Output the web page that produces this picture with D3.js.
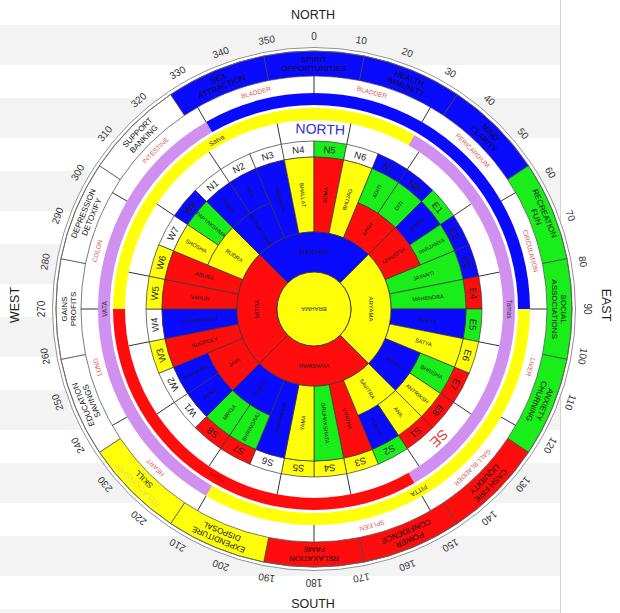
<!DOCTYPE html>
<html><head><meta charset="utf-8">
<script src="https://cdn.jsdelivr.net/npm/d3@7"></script>
<style>body{margin:0;background:#fff}svg{display:block;font-family:Arial,"Liberation Sans",sans-serif}</style>
</head><body><svg id="c" width="620" height="613"></svg>
<script>
// ---------------- DATA ----------------
const compassLabels = ["NORTH", "EAST", "SOUTH", "WEST"];
const degreeLabels = ["0","10","20","30","40","50","60","70","80","90","100","110","120","130","140","150","160","170","180","190","200","210","220","230","240","250","260","270","280","290","300","310","320","330","340","350"];
const zoneLine1 = ["SPIRIT","HEALTH","MIND","RECREATION","SOCIAL","ANXIETY","CASH FIRE","POWER","RELAXATION","EXPENDITURE","RELATIONSHIP","EDUCATION","GAINS","DEPRESSION","SUPPORT","SEX"];
const zoneLine2 = ["OPPORTUNITIES","IMMUNITY","CLARITY","FUN","ASSOCIATIONS","CHURNING","LIQUIDITY","CONFIDENCE","FAME","DISPOSAL","SKILL","SAVINGS","PROFITS","DETOXIFY","BANKING","ATTRACTION"];
const zoneColor = ["B","B","B","G","G","G","R","R","R","Y","Y","W","W","W","W","B"];
const organLabels = ["BLADDER","PERICARDIUM","CIRCULATION","LIVER","GALL BLADDER","SPLEEN","","HEART","LUNG","COLON","INTESTINE","BLADDER"];
const ringAColor = ["B","Y","L"];
const ringALabels = ["","PITTA","VATA"];
const ringBColor = ["Y","L","R"];
const ringBLabels = ["Satva","Tamas","Rajas"];
const padaLabels = ["N1","N2","N3","N4","N5","N6","N7","N8","E1","E2","E3","E4","E5","E6","E7","E8","S1","S2","S3","S4","S5","S6","S7","S8","W1","W2","W3","W4","W5","W6","W7","W8"];
const padaColor = ["W","W","W","W","G","W","B","B","G","B","B","R","G","Y","R","R","R","G","Y","Y","Y","W","R","R","W","W","Y","W","Y","Y","W","B"];
const deityNames = ["ROGA","NAG","MUKHYA","BHALLAT","SOMA","BHUJAG","ADITI","DITI","SHIKHI","PARJANYA","JAYANTI","MAHENDRA","SURYA","SATYA","BHRISHA","ANTRIKSH","ANIL","PUSHA","VITATHA","GRUHAKSHATA","YAMA","GANDHARVA","BHRINGRAJ","MRIGA","PITRA","DAUVARIK","SUGREEV","PUSHPADANT","VARUN","ASURA","SHOSHA","PAPYAKSHMA"];
const deityColor = ["B","B","B","Y","R","Y","G","G","B","G","G","G","B","Y","G","Y","Y","B","R","G","Y","B","G","G","B","B","R","B","R","R","Y","G"];
const midNames = ["APAH","APAVATSA","SAVITA","SAVITRA","INDRA","JAYA","RUDRA","RAJYAKSHMA"];
const midColor = ["R","R","B","Y","B","R","Y","B"];
const innerNames = ["BHUDHAR","ARYAMA","VIVASWAN","MITRA"];
const innerColor = ["B","Y","R","R"];
const centerName = "BRAHMA";
const zoneMarks = [{text:"NORTH", angle:2, color:"#2b2bd6"}, {text:"SE", angle:136, color:"#e63a3a"}];

// ---------------- STYLE / LAYOUT ----------------
const palette = {B:"#0a0aff", R:"#ff0d0d", Y:"#ffff0a", G:"#1aee1a", W:"#ffffff", L:"#d090f0"};
const cx = 314, cy = 309;
const R = {brahma:37, inner:77, mid:115, deity:152, pada:168, b0:189, b1:201, a0:204, a1:216, org1:233, zone1:258, line2:261.5, deg:273};

const svg = d3.select("#c");
// page stripes
d3.range(25, 613, 73).forEach(y => svg.append("rect").attr("x",0).attr("y",y).attr("width",560).attr("height",40).attr("fill","#f3f3f3"));
svg.append("line").attr("x1",560.5).attr("x2",560.5).attr("y1",0).attr("y2",613).attr("stroke","#d4d4d4");

const toRad = d3.scaleLinear().domain([0,360]).range([0,2*Math.PI]);
const arcGen = d3.arc();
const sector = (r0,r1,a0,a1) => arcGen({innerRadius:r0, outerRadius:r1, startAngle:toRad(a0), endAngle:toRad(a1)});
const pt = (r,a) => { const t = toRad(a); return [r*Math.sin(t), -r*Math.cos(t)]; };
const tang = (r,a) => { const [x,y] = pt(r,a); return `translate(${x},${y}) rotate(${a})`; };
const radial = (r,a) => { const [x,y] = pt(r,a); const n = ((a%360)+360)%360; const rot = n <= 185 ? n-90 : n+90; return `translate(${x},${y}) rotate(${rot})`; };

const g = svg.append("g").attr("transform",`translate(${cx},${cy})`);
g.append("circle").attr("r",R.line2).attr("fill","#fff").attr("stroke","#777").attr("stroke-width",0.8);

function label(sel, transform, txt, size, fill, weight) {
  return sel.append("text").attr("transform",transform).attr("text-anchor","middle")
    .attr("dominant-baseline","central").attr("font-size",size).attr("fill",fill)
    .attr("font-weight",weight||"normal").text(txt);
}

// degree labels
const degStep = 360/degreeLabels.length;
degreeLabels.forEach((t,i) => label(g, tang(R.deg, i*degStep), t, 10, "#333"));

// zone ring
const zoneStep = 360/zoneColor.length;
zoneColor.forEach((c,i) => {
  const a = i*zoneStep;
  g.append("path").attr("d",sector(R.org1,R.zone1,a-zoneStep/2,a+zoneStep/2))
    .attr("fill",palette[c]).attr("stroke","#444").attr("stroke-width",0.7);
  label(g, tang(249.5,a), zoneLine1[i], 8, zoneLine1[i]==="RELATIONSHIP" ? "#e9dd55" : "#111");
  label(g, tang(240.5,a), zoneLine2[i], 8, "#111");
});
g.append("circle").attr("r",R.zone1).attr("fill","none").attr("stroke","#666").attr("stroke-width",0.8);

// organ ring
const orgStep = 360/organLabels.length;
organLabels.forEach((t,i) => {
  const a = i*orgStep;
  const [x0,y0] = pt(R.a1,a), [x1,y1] = pt(R.org1,a);
  g.append("line").attr("x1",x0).attr("y1",y0).attr("x2",x1).attr("y2",y1).attr("stroke","#333").attr("stroke-width",1);
  label(g, tang(224.5,a+orgStep/2), t, 6.5, "#e0544c");
});

// ring A & B
const segA = 360/ringAColor.length;
ringAColor.forEach((c,i) => {
  const a0 = 330 + i*segA;
  g.append("path").attr("d",sector(R.a0,R.a1,a0,a0+segA)).attr("fill",palette[c]);
  if (ringALabels[i]) label(g, tang((R.a0+R.a1)/2, a0+segA/2), ringALabels[i], 6.5, "#333");
});
const segB = 360/ringBColor.length;
ringBColor.forEach((c,i) => {
  const a0 = 270 + i*segB;
  g.append("path").attr("d",sector(R.b0,R.b1,a0,a0+segB)).attr("fill",palette[c]);
  label(g, tang((R.b0+R.b1)/2, a0+segB/2), ringBLabels[i], 6.5, c==="R" ? "#c00000" : "#333");
});

// white annulus radial lines (16 zone boundaries)
zoneColor.forEach((c,i) => {
  const a = i*zoneStep + zoneStep/2;
  const [x0,y0] = pt(R.pada,a), [x1,y1] = pt(R.b0,a);
  g.append("line").attr("x1",x0).attr("y1",y0).attr("x2",x1).attr("y2",y1).attr("stroke","#333").attr("stroke-width",1);
});

// 32 padas + deities
const padaStep = 360/padaLabels.length;
padaLabels.forEach((lab,i) => {
  const a0 = 315 + i*padaStep, a1 = a0+padaStep, am = a0+padaStep/2;
  const k = i % 8, full = k >= 2 && k <= 5;
  g.append("path").attr("d",sector(R.deity,R.pada,a0,a1)).attr("fill",palette[padaColor[i]]).attr("stroke","#333").attr("stroke-width",0.7);
  label(g, tang(160,am), lab, 9.5, "#222");
  const r0 = full ? R.inner : R.mid;
  g.append("path").attr("d",sector(r0,R.deity,a0,a1)).attr("fill",palette[deityColor[i]]).attr("stroke","#333").attr("stroke-width",0.7);
  label(g, radial((r0+R.deity)/2, am), deityNames[i], 5.5, "#1a1a1a");
});

// intermediate deities
midNames.forEach((n,j) => {
  const a0 = 22.5 + 90*Math.floor(j/2) + 22.5*(j%2);
  g.append("path").attr("d",sector(R.inner,R.mid,a0,a0+22.5)).attr("fill",palette[midColor[j]]).attr("stroke","#333").attr("stroke-width",0.7);
  label(g, radial((R.inner+R.mid)/2, a0+11.25), n, 5.5, "#1a1a1a");
});

// inner four
innerNames.forEach((n,j) => {
  const a = 90*j;
  g.append("path").attr("d",sector(R.brahma,R.inner,a-45,a+45)).attr("fill",palette[innerColor[j]]).attr("stroke","#333").attr("stroke-width",0.8);
  label(g, tang(57,a), n, 6, "#1a1a1a");
});
g.append("circle").attr("r",R.brahma).attr("fill",palette.Y).attr("stroke","#333").attr("stroke-width",0.9);
label(g, "rotate(180)", centerName, 6, "#333");

// direction marks in white annulus
zoneMarks.forEach(m => label(g, tang(180,m.angle), m.text, 14, m.color));

// compass
label(svg, `translate(313,15)`, compassLabels[0], 12.5, "#222");
label(svg, `translate(606,305) rotate(90)`, compassLabels[1], 12.5, "#222");
label(svg, `translate(313,604)`, compassLabels[2], 12.5, "#222");
label(svg, `translate(15,305) rotate(-90)`, compassLabels[3], 12.5, "#222");
</script></body></html>
